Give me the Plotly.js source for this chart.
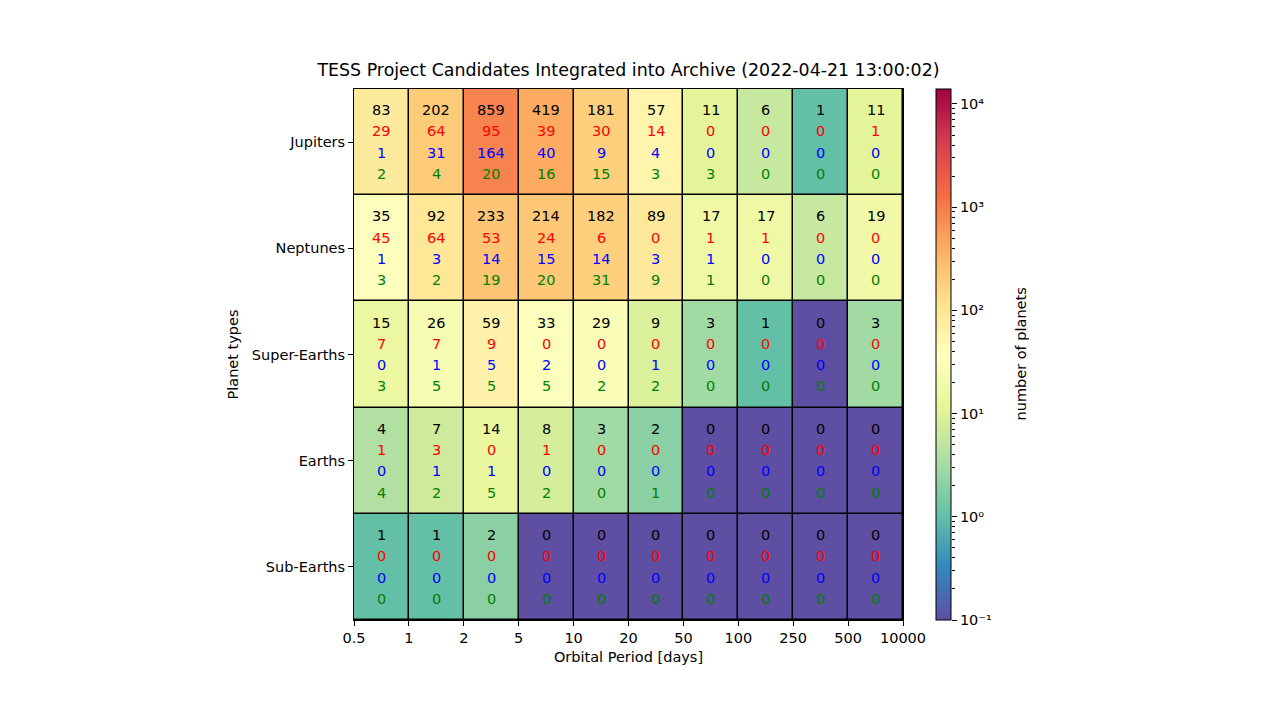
<!DOCTYPE html>
<html>
<head>
<meta charset="utf-8">
<script src="https://cdn.plot.ly/plotly-3.0.1.min.js"></script>
<style>html,body{margin:0;padding:0;background:#fff;}#chart{width:1280px;height:714px;}</style>
</head>
<body>
<div id="chart"></div>
<script>
// Bin edges of orbital period (days) and planet types (top to bottom)
const periodEdges = ['0.5','1','2','5','10','20','50','100','250','500','10000'];
const planetTypes = ['Jupiters','Neptunes','Super-Earths','Earths','Sub-Earths'];

// Black numbers (total, used for cell colour)
const totalCounts = [
  [83, 202, 859, 419, 181, 57, 11, 6, 1, 11],
  [35, 92, 233, 214, 182, 89, 17, 17, 6, 19],
  [15, 26, 59, 33, 29, 9, 3, 1, 0, 3],
  [4, 7, 14, 8, 3, 2, 0, 0, 0, 0],
  [1, 1, 2, 0, 0, 0, 0, 0, 0, 0]
];
// Red numbers
const redCounts = [
  [29, 64, 95, 39, 30, 14, 0, 0, 0, 1],
  [45, 64, 53, 24, 6, 0, 1, 1, 0, 0],
  [7, 7, 9, 0, 0, 0, 0, 0, 0, 0],
  [1, 3, 0, 1, 0, 0, 0, 0, 0, 0],
  [0, 0, 0, 0, 0, 0, 0, 0, 0, 0]
];
// Blue numbers
const blueCounts = [
  [1, 31, 164, 40, 9, 4, 0, 0, 0, 0],
  [1, 3, 14, 15, 14, 3, 1, 0, 0, 0],
  [0, 1, 5, 2, 0, 1, 0, 0, 0, 0],
  [0, 1, 1, 0, 0, 0, 0, 0, 0, 0],
  [0, 0, 0, 0, 0, 0, 0, 0, 0, 0]
];
// Green numbers
const greenCounts = [
  [2, 4, 20, 16, 15, 3, 3, 0, 0, 0],
  [3, 2, 19, 20, 31, 9, 1, 0, 0, 0],
  [3, 5, 5, 5, 2, 2, 0, 0, 0, 0],
  [4, 2, 5, 2, 0, 1, 0, 0, 0, 0],
  [0, 0, 0, 0, 0, 0, 0, 0, 0, 0]
];
// Colour scale limits (log scale) and colour-bar tick labels
const colorMin = 0.1;
const colorMax = 13960;
const colorbarMajor = [0.1, 1, 10, 100, 1000, 10000];
const colorbarLabels = ['10\u207B\u00B9', '10\u2070', '10\u00B9', '10\u00B2', '10\u00B3', '10\u2074'];

const FONT = 'DejaVu Sans, sans-serif';
const FS = 14.5;
const nCols = periodEdges.length - 1;
const colIdx = Array.from({length: nCols}, (_, i) => i);
const rowIdx = planetTypes.map((_, i) => i);

const zLog = totalCounts.map(row => row.map(v => Math.log10(Math.max(v, colorMin))));

const spectralR = ['#5e4fa2','#3288bd','#66c2a5','#abdda4','#e6f598','#ffffbf','#fee08b','#fdae61','#f46d43','#d53e4f','#9e0142'];
const colorscale = spectralR.map((c, i) => [i / (spectralR.length - 1), c]);

const lo = Math.log10(colorMin), hi = Math.log10(colorMax);
const minorVals = [];
colorbarMajor.forEach(m => { for (let k = 2; k <= 9; k++) { if (m * k <= colorMax) minorVals.push(m * k); } });

// pixel layout
const W = 1280, H = 714;
const mL = 354, mR = 200, mT = 89, mB = 94;
const paperW = W - mL - mR;
const plotW = 549;
const px = p => (p - mL) / paperW;

const heat = {
  type: 'heatmap',
  x: colIdx, y: rowIdx, z: zLog,
  zmin: lo, zmax: hi,
  colorscale: colorscale,
  xgap: 1.5, ygap: 1.5,
  hoverinfo: 'skip',
  colorbar: {
    x: px(936), xanchor: 'left', xref: 'paper',
    y: 0.5, yanchor: 'middle', len: 1, lenmode: 'fraction',
    thickness: 15, thicknessmode: 'pixels',
    outlinewidth: 1, outlinecolor: '#000',
    ticks: '', showticklabels: false,
    xpad: 0, ypad: 0
  }
};
// carrier for the colour-bar tick axis
const cbAxisTrace = {type: 'scatter', mode: 'markers', x: [], y: [], xaxis: 'x', yaxis: 'y2', showlegend: false, hoverinfo: 'skip'};

const layers = [
  {data: totalCounts, color: '#000000', dy: -0.30},
  {data: redCounts, color: '#ff0000', dy: -0.10},
  {data: blueCounts, color: '#0000ff', dy: 0.10},
  {data: greenCounts, color: '#008000', dy: 0.30}
];
const annotations = [];
layers.forEach(L => {
  L.data.forEach((row, r) => row.forEach((v, c) => {
    annotations.push({
      x: c, y: r + L.dy, xref: 'x', yref: 'y',
      text: String(v), showarrow: false,
      font: {family: FONT, size: FS, color: L.color},
      xanchor: 'center', yanchor: 'middle'
    });
  }));
});
annotations.push({
  x: px(1020), y: 0.5, xref: 'paper', yref: 'paper',
  text: 'number of planets', textangle: -90, showarrow: false,
  font: {family: FONT, size: FS, color: '#000'},
  xanchor: 'center', yanchor: 'middle'
});

const layout = {
  width: W, height: H,
  margin: {l: mL, r: mR, t: mT, b: mB, pad: 0},
  paper_bgcolor: '#fff', plot_bgcolor: '#000',
  font: {family: FONT, size: FS, color: '#000'},
  showlegend: false,
  title: {
    text: 'TESS Project Candidates Integrated into Archive (2022-04-21 13:00:02)',
    font: {family: FONT, size: 17.4, color: '#000'},
    x: px(mL + plotW / 2), xanchor: 'center', xref: 'paper', y: 1, yref: 'container',
    yanchor: 'top', pad: {t: 64}
  },
  xaxis: {
    domain: [0, plotW / paperW],
    range: [-0.5, nCols - 0.5],
    tickmode: 'array',
    tickvals: periodEdges.map((_, i) => i - 0.5),
    ticktext: periodEdges,
    ticks: 'outside', ticklen: 5, tickwidth: 1, tickcolor: '#000',
    showline: true, mirror: true, linecolor: '#000', linewidth: 1,
    showgrid: false, zeroline: false,
    tickfont: {family: FONT, size: FS, color: '#000'},
    title: {text: 'Orbital Period [days]', font: {family: FONT, size: FS, color: '#000'}, standoff: 6}
  },
  yaxis: {
    range: [planetTypes.length - 0.5, -0.5],
    tickmode: 'array', tickvals: rowIdx, ticktext: planetTypes,
    ticks: 'outside', ticklen: 5, tickwidth: 1, tickcolor: '#000',
    showline: true, mirror: true, linecolor: '#000', linewidth: 1,
    showgrid: false, zeroline: false,
    tickfont: {family: FONT, size: FS, color: '#000'},
    title: {text: 'Planet types', font: {family: FONT, size: FS, color: '#000'}, standoff: 9}
  },
  yaxis2: {
    overlaying: 'y', anchor: 'free', position: px(951), side: 'right',
    type: 'log', range: [lo, hi], autorange: false,
    tickmode: 'array', tickvals: colorbarMajor, ticktext: colorbarLabels,
    ticks: 'outside', ticklen: 5, tickwidth: 1, tickcolor: '#000',
    minor: {tickmode: 'array', tickvals: minorVals, ticks: 'outside', ticklen: 3, tickwidth: 1, tickcolor: '#000', showgrid: false},
    showline: false, showgrid: false, zeroline: false,
    tickfont: {family: FONT, size: FS, color: '#000'}
  },
  annotations: annotations
};

Plotly.newPlot('chart', [heat, cbAxisTrace], layout, {displayModeBar: false, staticPlot: true});
</script>
</body>
</html>
